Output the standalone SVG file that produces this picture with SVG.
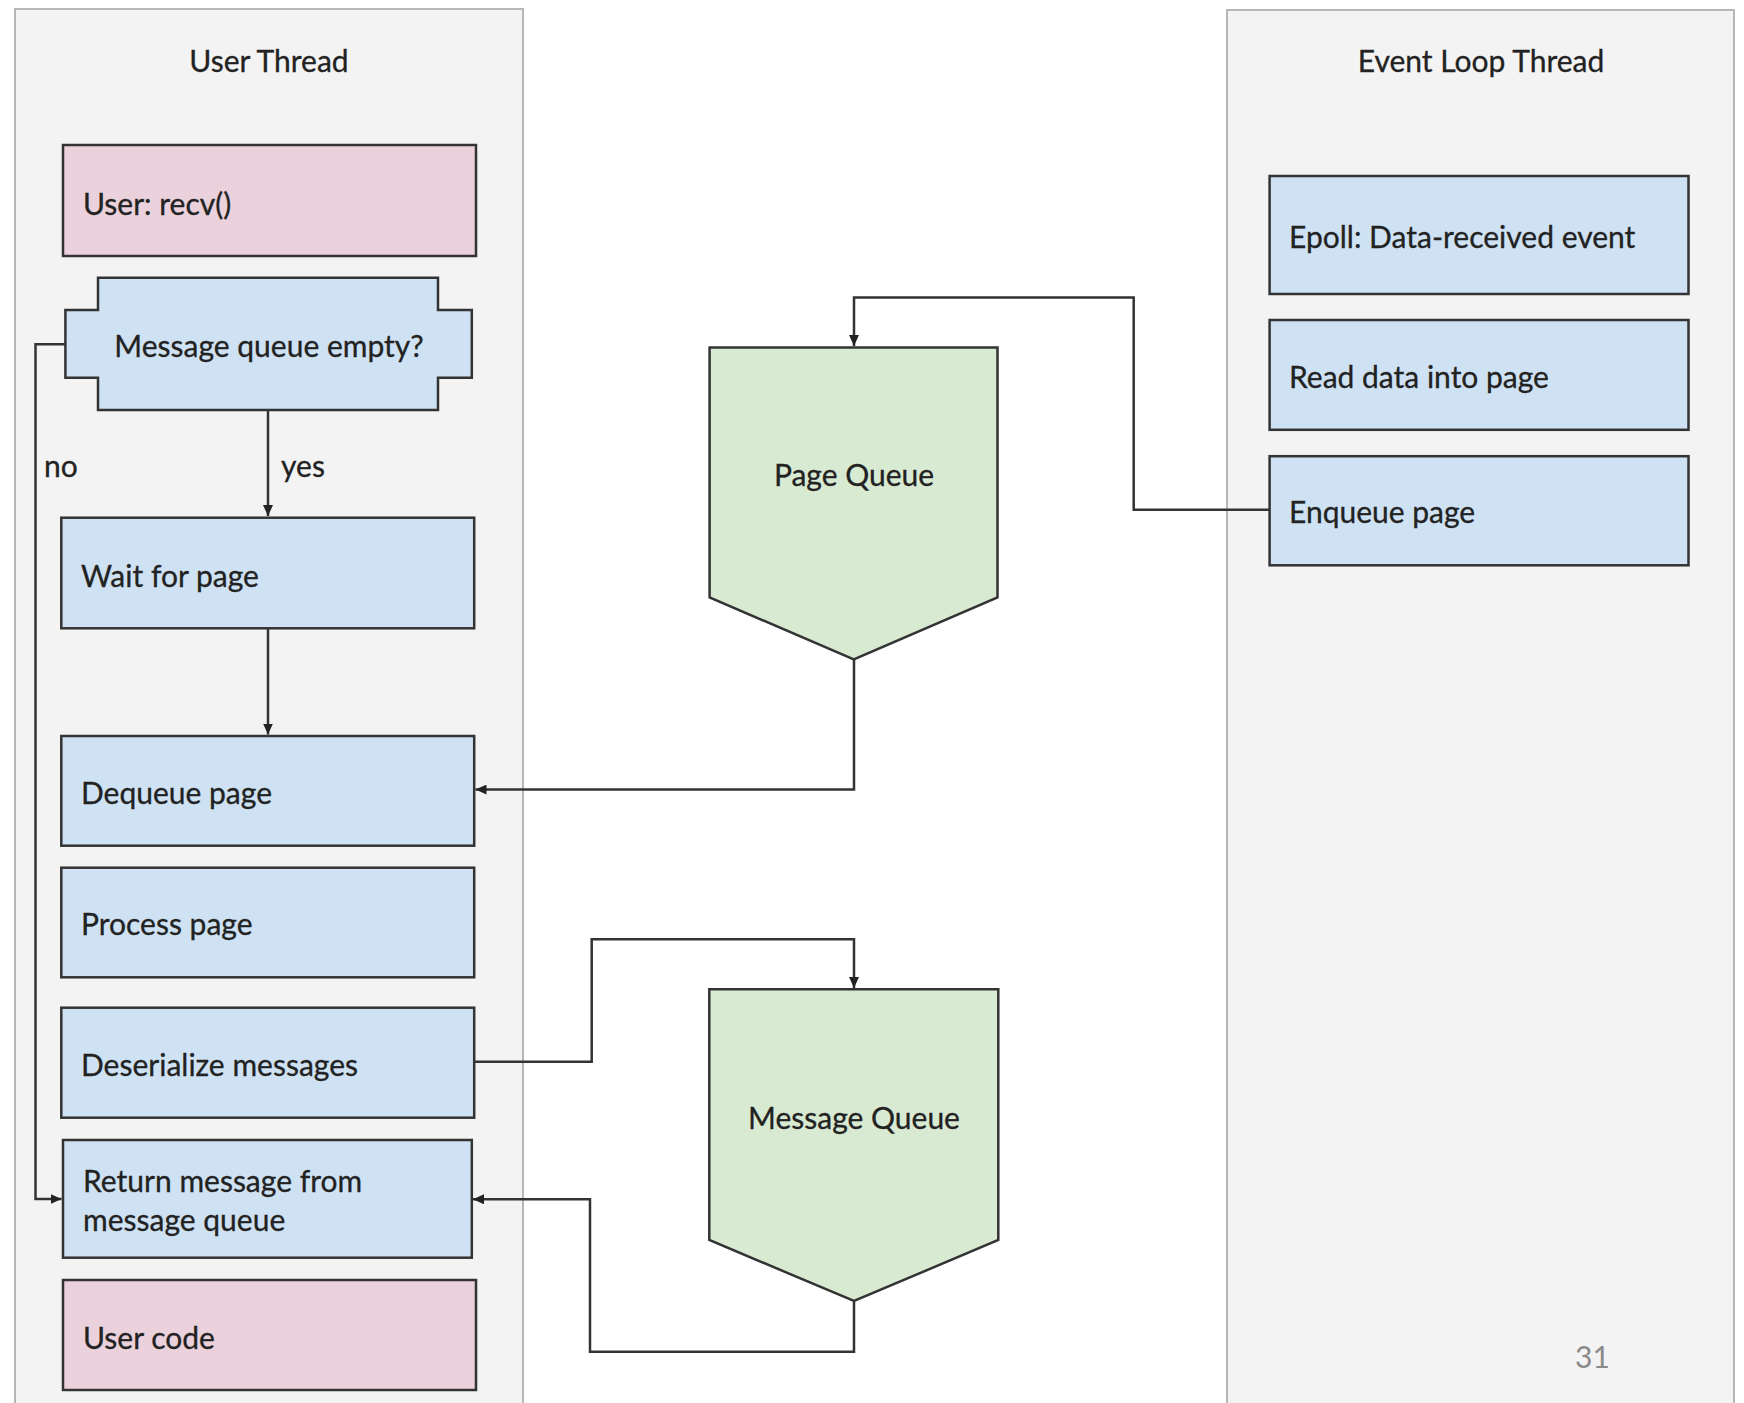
<svg xmlns="http://www.w3.org/2000/svg" width="1744" height="1403" viewBox="0 0 1744 1403">
<defs>
<style>
.panel{fill:#f3f3f3;stroke:#b7b7b7;stroke-width:2}
.blue{fill:#cfe2f3;stroke:#333;stroke-width:2.5}
.pink{fill:#ead1dc;stroke:#333;stroke-width:2.5}
.green{fill:#d9ead3;stroke:#333;stroke-width:2.5}
.t{font-family:Lato,"Open Sans","Liberation Sans",sans-serif;font-size:30px;fill:#222;stroke:#222;stroke-width:0.3}
.c{text-anchor:middle}
.conn{fill:none;stroke:#333;stroke-width:2.5}
.pg{font-family:Lato,"Liberation Sans",sans-serif;font-size:30px;fill:#8a8a8a}
</style>
<marker id="arr" markerUnits="userSpaceOnUse" markerWidth="11" markerHeight="10" refX="11" refY="5" orient="auto">
<path d="M0,0 L11,5 L0,10 z" fill="#222"/>
</marker>
</defs>
<rect width="1744" height="1403" fill="#ffffff"/>
<g id="user-thread">
<rect class="panel" x="15" y="9" width="508" height="1402"/>
<text class="t c" x="269" y="71.5">User Thread</text>
</g>
<g id="event-loop-thread">
<rect class="panel" x="1227" y="10" width="507" height="1402"/>
<text class="t c" x="1481" y="71.5">Event Loop Thread</text>
</g>
<g id="connectors">
<path class="conn" d="M268,410 V516" marker-end="url(#arr)"/>
<path class="conn" d="M268,628 V734.5" marker-end="url(#arr)"/>
<path class="conn" d="M65.4,344.3 H35.5 V1199 H61.5" marker-end="url(#arr)"/>
<path class="conn" d="M1269.6,509.8 H1133.7 V297.5 H854 V346" marker-end="url(#arr)"/>
<path class="conn" d="M854,659.3 V789.6 H475.5" marker-end="url(#arr)"/>
<path class="conn" d="M474.2,1061.7 H591.7 V939.3 H854 V988" marker-end="url(#arr)"/>
<path class="conn" d="M854,1301 V1351.7 H590 V1199.3 H473" marker-end="url(#arr)"/>
<text class="t" x="44" y="476.5">no</text>
<text class="t" x="281" y="476.5">yes</text>
</g>
<g id="user-recv">
<rect class="pink" x="63" y="145" width="413" height="111"/>
<text class="t" x="83" y="214.5">User: recv()</text>
</g>
<g id="msg-queue-empty">
<path class="blue" d="M98,277.7 H438 V310 H471.8 V377.7 H438 V410 H98 V377.7 H65.4 V310 H98 Z"/>
<text class="t c" x="269" y="356.5">Message queue empty?</text>
</g>
<g id="wait-for-page">
<rect class="blue" x="61.3" y="517.7" width="412.9" height="110.6"/>
<text class="t" x="81" y="586.5">Wait for page</text>
</g>
<g id="dequeue-page">
<rect class="blue" x="61.3" y="736" width="412.9" height="109.7"/>
<text class="t" x="81" y="803.5">Dequeue page</text>
</g>
<g id="process-page">
<rect class="blue" x="61.3" y="867.7" width="412.9" height="109.6"/>
<text class="t" x="81" y="934.5">Process page</text>
</g>
<g id="deserialize-messages">
<rect class="blue" x="61.3" y="1007.7" width="412.9" height="110"/>
<text class="t" x="81" y="1075.5">Deserialize messages</text>
</g>
<g id="return-message">
<rect class="blue" x="63" y="1140" width="408.8" height="117.7"/>
<text class="t" x="83" y="1192">Return message from</text>
<text class="t" x="83" y="1230.5">message queue</text>
</g>
<g id="user-code">
<rect class="pink" x="63" y="1280" width="413" height="110"/>
<text class="t" x="83" y="1348.5">User code</text>
</g>
<g id="page-queue">
<polygon class="green" points="709.6,347.5 997.5,347.5 997.5,597.5 853.8,659.3 709.6,597.5"/>
<text class="t c" x="854" y="485.5">Page Queue</text>
</g>
<g id="message-queue">
<polygon class="green" points="709.3,989.3 998.3,989.3 998.3,1240 854,1301 709.3,1240"/>
<text class="t c" x="854" y="1128.5">Message Queue</text>
</g>
<g id="epoll">
<rect class="blue" x="1269.6" y="176" width="418.9" height="118"/>
<text class="t" x="1289" y="247.5">Epoll: Data-received event</text>
</g>
<g id="read-data">
<rect class="blue" x="1269.6" y="320" width="418.9" height="109.8"/>
<text class="t" x="1289" y="387.5">Read data into page</text>
</g>
<g id="enqueue-page">
<rect class="blue" x="1269.6" y="456.2" width="418.9" height="109.1"/>
<text class="t" x="1289" y="522.5">Enqueue page</text>
</g>
<text class="pg" x="1575" y="1368">31</text>
</svg>
